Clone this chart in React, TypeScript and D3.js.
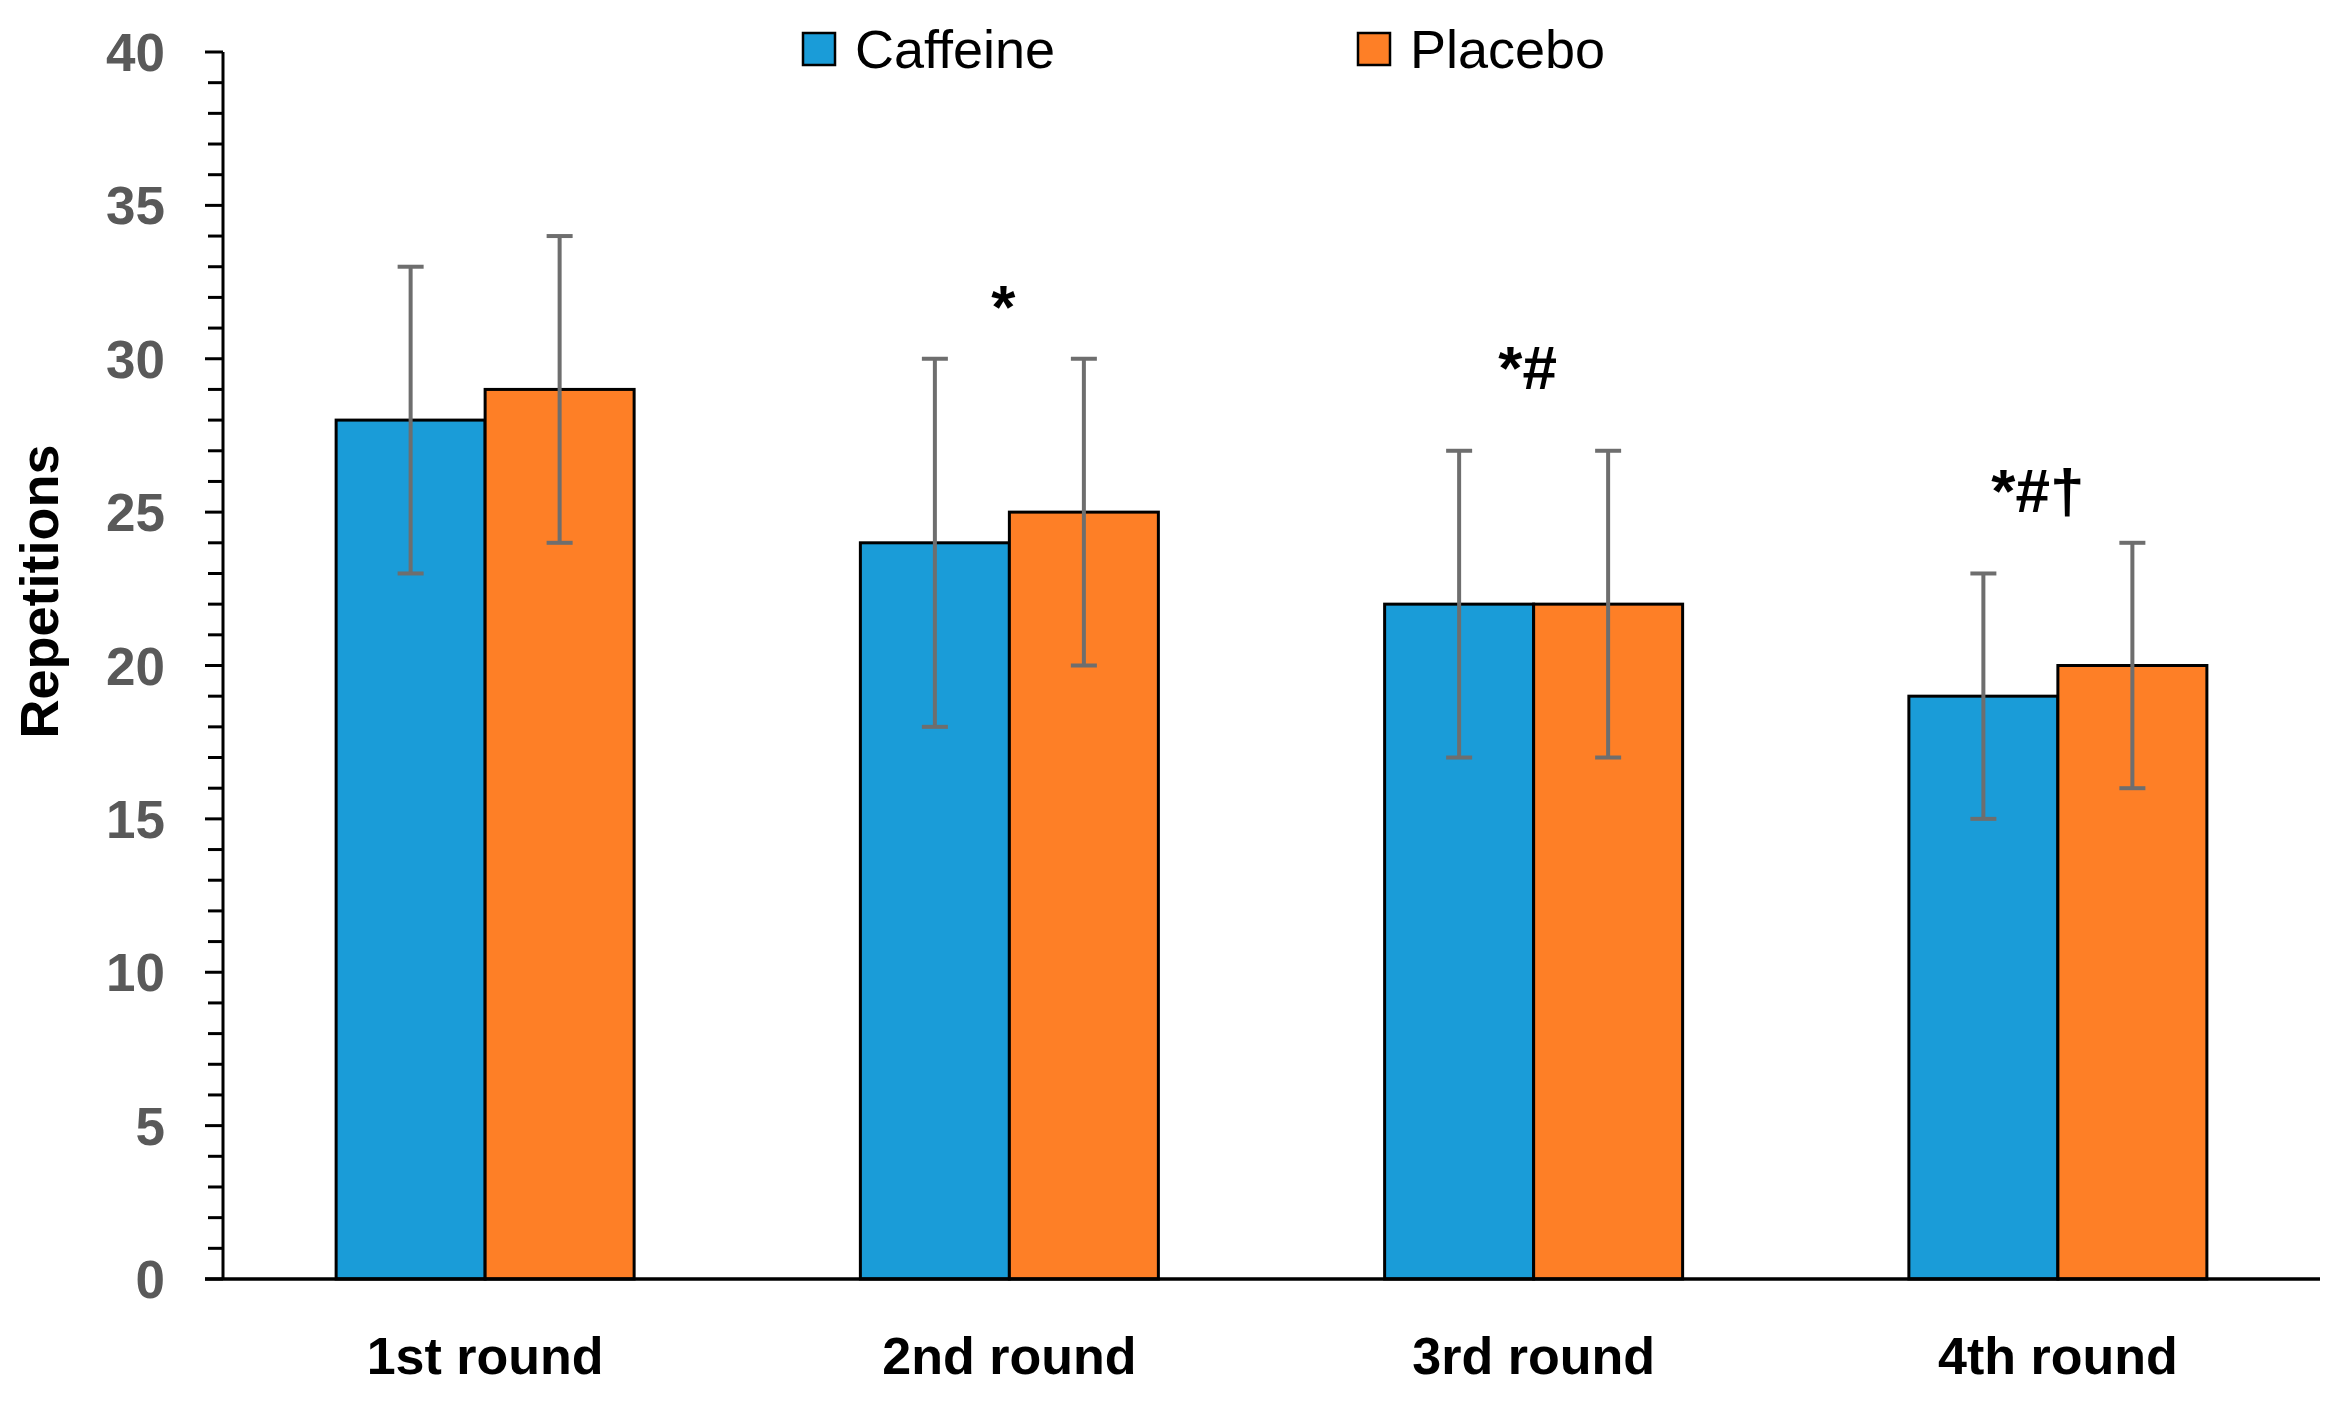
import * as d3 from "d3";

// chart data
const rounds = ["1st round", "2nd round", "3rd round", "4th round"];
const seriesNames = ["Caffeine", "Placebo"];
const caffeine = [28, 24, 22, 19];
const placebo = [29, 25, 22, 20];
const caffeineErr = [5, 6, 5, 4];
const placeboErr = [5, 5, 5, 4];
const marks = ["", "*", "*#", "*#†"];
const markLevels = [0, 31, 29, 25];
const yTicks = [0, 5, 10, 15, 20, 25, 30, 35, 40];

const colors = ["#1a9cd8", "#fe7f26"];
const W = 2332;
const H = 1402;
const margin = { top: 52, right: 12, bottom: 123, left: 223 };

export default function App() {
  const innerW = W - margin.left - margin.right;
  const innerH = H - margin.top - margin.bottom;

  const y = d3.scaleLinear().domain([0, 40]).range([innerH, 0]);
  const x0 = d3.scaleBand<string>().domain(rounds).range([0, innerW]).padding(0);
  const barW = 149;
  const x1 = d3
    .scaleBand<string>()
    .domain(seriesNames)
    .range([0, barW * 2])
    .padding(0);

  const values = [caffeine, placebo];
  const errs = [caffeineErr, placeboErr];
  const minorTicks = d3.range(0, 41, 1).filter((v) => v % 5 !== 0);

  const groupStart = (r: string) =>
    (x0(r) || 0) + x0.bandwidth() / 2 - barW;

  return (
    <svg
      width={W}
      height={H}
      style={{ position: "absolute", left: 0, top: 0, background: "#fff" }}
      fontFamily="'Liberation Sans', Arial, sans-serif"
    >
      <g transform={`translate(${margin.left},${margin.top})`}>
        {/* bars */}
        {rounds.map((r, i) =>
          seriesNames.map((s, k) => (
            <rect
              key={r + s}
              x={groupStart(r) + (x1(s) || 0)}
              y={y(values[k][i])}
              width={x1.bandwidth()}
              height={innerH - y(values[k][i])}
              fill={colors[k]}
              stroke="#000"
              strokeWidth={3}
            />
          ))
        )}

        {/* error bars */}
        {rounds.map((r, i) =>
          seriesNames.map((s, k) => {
            const cx = groupStart(r) + (x1(s) || 0) + x1.bandwidth() / 2;
            const lo = y(values[k][i] - errs[k][i]);
            const hi = y(values[k][i] + errs[k][i]);
            return (
              <g key={"e" + r + s} stroke="#6e6e6e" strokeWidth={4}>
                <line x1={cx} x2={cx} y1={lo} y2={hi} />
                <line x1={cx - 13} x2={cx + 13} y1={lo} y2={lo} />
                <line x1={cx - 13} x2={cx + 13} y1={hi} y2={hi} />
              </g>
            );
          })
        )}

        {/* significance marks */}
        {rounds.map((r, i) =>
          marks[i] ? (
            <text
              key={"m" + r}
              x={(x0(r) || 0) + x0.bandwidth() / 2 - (i === 3 ? 20 : 6)}
              y={y(markLevels[i])}
              textAnchor="middle"
              fontWeight="bold"
              fontSize={62}
              fill="#000"
            >
              {marks[i]}
            </text>
          ) : null
        )}

        {/* y axis */}
        <line x1={0} x2={0} y1={0} y2={innerH} stroke="#000" strokeWidth={3} />
        {minorTicks.map((t) => (
          <line key={"mt" + t} x1={-15} x2={0} y1={y(t)} y2={y(t)} stroke="#000" strokeWidth={3} />
        ))}
        {yTicks.map((t) => (
          <g key={"t" + t}>
            <line x1={-18} x2={0} y1={y(t)} y2={y(t)} stroke="#000" strokeWidth={3} />
            <text
              x={-58}
              y={y(t)}
              dy="0.36em"
              textAnchor="end"
              fontWeight="bold"
              fontSize={53}
              fill="#595959"
            >
              {t}
            </text>
          </g>
        ))}

        {/* x axis */}
        <line x1={-18} x2={innerW} y1={innerH} y2={innerH} stroke="#000" strokeWidth={3.5} />
        {rounds.map((r) => (
          <text
            key={"x" + r}
            x={(x0(r) || 0) + x0.bandwidth() / 2}
            y={innerH + 95}
            textAnchor="middle"
            fontWeight="bold"
            fontSize={52}
            fill="#000"
          >
            {r}
          </text>
        ))}

        {/* y title */}
        <text
          transform={`translate(${39 - margin.left},${innerH / 2 - 74}) rotate(-90)`}
          dy="0.36em"
          textAnchor="middle"
          fontWeight="bold"
          fontSize={54}
          fill="#000"
        >
          Repetitions
        </text>
      </g>

      {/* legend */}
      {seriesNames.map((s, k) => (
        <g key={"l" + s} transform={`translate(${[803, 1358][k]},33)`}>
          <rect width={32} height={32} fill={colors[k]} stroke="#000" strokeWidth={2.5} />
          <text x={52} y={16} dy="0.36em" fontSize={54} fill="#000">
            {s}
          </text>
        </g>
      ))}
    </svg>
  );
}
